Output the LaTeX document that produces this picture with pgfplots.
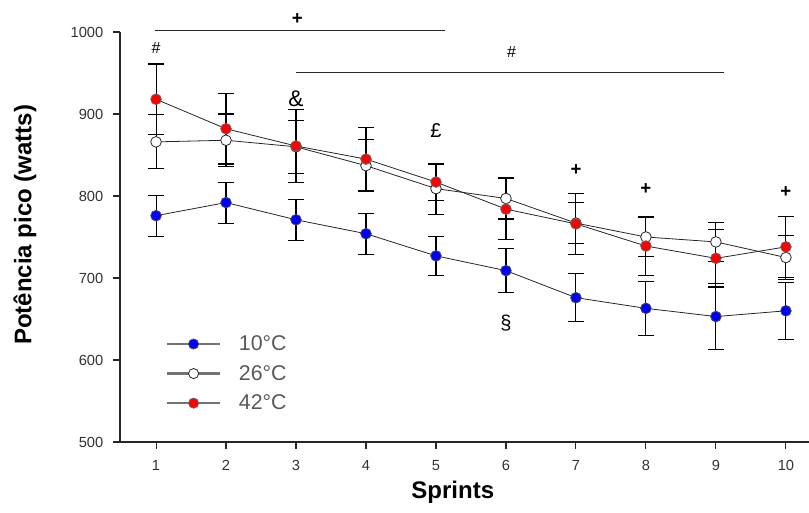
\documentclass[border=0pt]{standalone}
\usepackage{fontspec}
\setmainfont{Liberation Sans}
\usepackage{pgfplots}
\pgfplotsset{compat=1.18}

\definecolor{redpt}{RGB}{255,0,0}
\definecolor{bluept}{RGB}{0,0,255}

\begin{document}
\begin{tikzpicture}
\begin{axis}[
    name=ax,
    scale only axis,
    width=516.75pt, height=307.5pt,
    xmin=0.485, xmax=10.33,
    ymin=500, ymax=1000,
    axis x line=bottom, axis y line=left,
    axis line style={-, line width=0.8pt, black!85},
    tick align=outside,
    major tick length=5pt,
    tick style={line width=0.8pt, black!85},
    xtick={1,2,...,10}, ytick={500,600,...,1000},
    ticklabel style={font=\fontsize{11}{13}\selectfont, text=black!80},
    xticklabel style={yshift=-5pt},
    yticklabel style={xshift=-4pt},
    /pgf/number format/assume math mode=true,
    /pgf/number format/set thousands separator={},
    xlabel={\textbf{Sprints}},
    ylabel={\textbf{Potência pico (watts)}},
    label style={font=\fontsize{18}{20}\selectfont},
    xlabel style={at={(axis description cs:0.483,0)}, anchor=center, yshift=-38pt},
    ylabel style={at={(axis description cs:-0.138,0.53)}, anchor=center},
    clip=false,
    legend style={at={(axis description cs:0.06,0.27)}, anchor=north west,
        draw=none, fill=none, font=\fontsize{16}{18}\selectfont, text=black!65,
        row sep=7.5pt, nodes={inner sep=1pt}},
    legend cell align=left,
    /tikz/every odd column/.append style={column sep=12pt},
    legend image code/.code={
        \draw[black!55, line width=2pt] (0pt,0pt) -- (40pt,0pt);
        \draw[#1, draw=none, mark size=3.8pt] plot coordinates {(20pt,0pt)};
    },
    every axis plot/.append style={
        line width=0.6pt,
        error bars/y dir=both, error bars/y explicit,
        error bars/error mark options={rotate=90, mark size=6pt, line width=0.8pt, black},
        error bars/error bar style={line width=0.8pt, black},
    },
]
% 10 C
\addplot[black!85, mark=*, mark size=4pt, mark options={fill=bluept, draw=black!70}]
  coordinates {(1,776) +- (0,25) (2,792) +- (0,25) (3,771) +- (0,25) (4,754) +- (0,25)
               (5,727) +- (0,24) (6,709) +- (0,27) (7,676) +- (0,29) (8,663) +- (0,33)
               (9,653) +- (0,40) (10,660) +- (0,35)};
% 26 C
\addplot[black!85, mark=*, mark size=4pt, mark options={fill=white, draw=black!85}]
  coordinates {(1,866) +- (0,33) (2,868) +- (0,32) (3,860) +- (0,32) (4,837) +- (0,32)
               (5,809) +- (0,31) (6,797) +- (0,25) (7,767) +- (0,25) (8,750) +- (0,24)
               (9,744) +- (0,24) (10,725) +- (0,27)};
% 42 C
\addplot[black!85, mark=*, mark size=4pt, mark options={fill=redpt, draw=black!60}]
  coordinates {(1,918) +- (0,43) (2,882) +- (0,43) (3,861) +- (0,45) (4,845) +- (0,38)
               (5,817) +- (0,22) (6,784) +- (0,37) (7,766) +- (0,37) (8,739) +- (0,36)
               (9,724) +- (0,35) (10,738) +- (0,37)};
\legend{10°C, 26°C, 42°C}

% significance bars
\addplot[black!85, line width=0.8pt, no marks, forget plot, error bars/y dir=none]
  coordinates {(0.99,1002) (5.13,1002)};
\addplot[black!85, line width=0.8pt, no marks, forget plot, error bars/y dir=none]
  coordinates {(3.0,951) (9.12,951)};

\node[font=\bfseries\fontsize{14}{14}\selectfont] at (axis cs:3.02,1016) {+};
\node[font=\fontsize{12}{12}\selectfont] at (axis cs:1.0,981) {\#};
\node[font=\fontsize{12}{12}\selectfont] at (axis cs:6.08,975) {\#};
\node[font=\fontsize{17}{17}\selectfont] at (axis cs:3.0,918) {\&};
\node[font=\fontsize{15}{15}\selectfont] at (axis cs:5.0,880) {£};
\node[font=\fontsize{15}{15}\selectfont] at (axis cs:6.0,645) {§};
\node[font=\bfseries\fontsize{14}{14}\selectfont] at (axis cs:7.0,832) {+};
\node[font=\bfseries\fontsize{14}{14}\selectfont] at (axis cs:8.0,808) {+};
\node[font=\bfseries\fontsize{14}{14}\selectfont] at (axis cs:10.0,805) {+};
\end{axis}
\pgfresetboundingbox
\path[use as bounding box] ([shift={(-90pt,-52.5pt)}]ax.south west) rectangle ++(606.75pt,384pt);
\end{tikzpicture}
\end{document}
